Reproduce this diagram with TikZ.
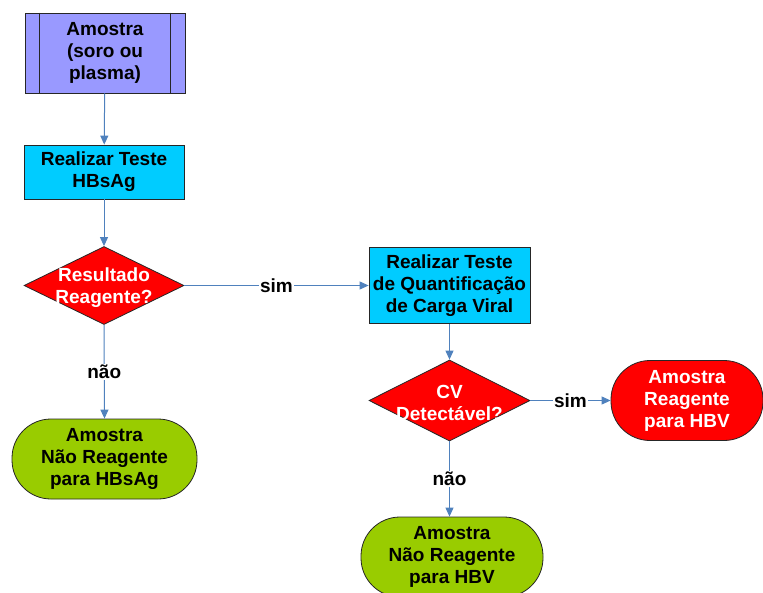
\documentclass[tikz,border=0pt]{standalone}
\usepackage{fontspec}
\setmainfont{Liberation Sans}
\usetikzlibrary{shapes.geometric,arrows.meta}
\definecolor{lav}{HTML}{9999FF}
\definecolor{cyanb}{HTML}{00CCFF}
\definecolor{redf}{HTML}{FF0000}
\definecolor{greenf}{HTML}{99CC00}
\definecolor{arrowc}{HTML}{4F81BD}
\tikzset{
  txtfont/.style={font=\fontsize{19}{22}\selectfont\bfseries},
  base/.style={draw=black!85, line width=0.8pt, align=center, inner sep=0pt, txtfont},
  procbox/.style={base, rectangle},
  decision/.style={base, diamond, fill=redf, aspect=2},
  terminal/.style={base, rectangle, rounded corners=39pt},
  conn/.style={draw=arrowc, line width=1pt, -{Triangle[length=9pt,width=8pt]}},
  lbl/.style={fill=white, inner sep=1pt, txtfont}
}
\begin{document}
\begin{tikzpicture}[x=1pt,y=-1pt]
\useasboundingbox (0,0) rectangle (763,592);
\node[procbox, fill=lav, minimum width=160pt, minimum height=80pt] (a) at (105,53) {Amostra\\(soro ou\\plasma)};
\draw[black!85, line width=0.8pt] ([xshift=15pt]a.north west) -- ([xshift=15pt]a.south west);
\draw[black!85, line width=0.8pt] ([xshift=-15pt]a.north east) -- ([xshift=-15pt]a.south east);
\node[procbox, fill=cyanb, minimum width=160pt, minimum height=54pt] (b) at (104,172) {Realizar Teste\\HBsAg};
\node[decision, minimum width=160pt, minimum height=78pt,
  label={[align=center, text=white, txtfont, yshift=-2pt]center:Resultado\\Reagente?}] (d1) at (104,285.5) {};
\node[procbox, fill=cyanb, minimum width=161pt, minimum height=76pt] (c) at (449.5,285.5) {Realizar Teste\\de Quantificação\\de Carga Viral};
\node[decision, minimum width=161pt, minimum height=81pt,
  label={[align=center, text=white, txtfont, yshift=-2pt]center:CV\\Detectável?}] (d2) at (449.5,400.5) {};
\node[terminal, fill=greenf, minimum width=185pt, minimum height=80pt] (t1) at (104.5,459) {Amostra\\Não Reagente\\para HBsAg};
\node[terminal, fill=greenf, minimum width=182pt, minimum height=80pt] (t2) at (452,557) {Amostra\\Não Reagente\\para HBV};
\node[terminal, fill=redf, text=white, minimum width=152pt, minimum height=80pt] (t3) at (687,400.5) {Amostra\\Reagente\\para HBV};
\draw[conn] (a) -- (b);
\draw[conn] (b) -- (d1);
\draw[conn] (d1.east) -- node[lbl] {sim} (c.west);
\draw[conn] (d1.south) -- node[lbl] {não} (t1.north);
\draw[conn] (c.south) -- (d2.north);
\draw[conn] (d2.east) -- node[lbl] {sim} (t3.west);
\draw[conn] (d2.south) -- node[lbl] {não} (t2.north -| d2.south);
\end{tikzpicture}
\end{document}
